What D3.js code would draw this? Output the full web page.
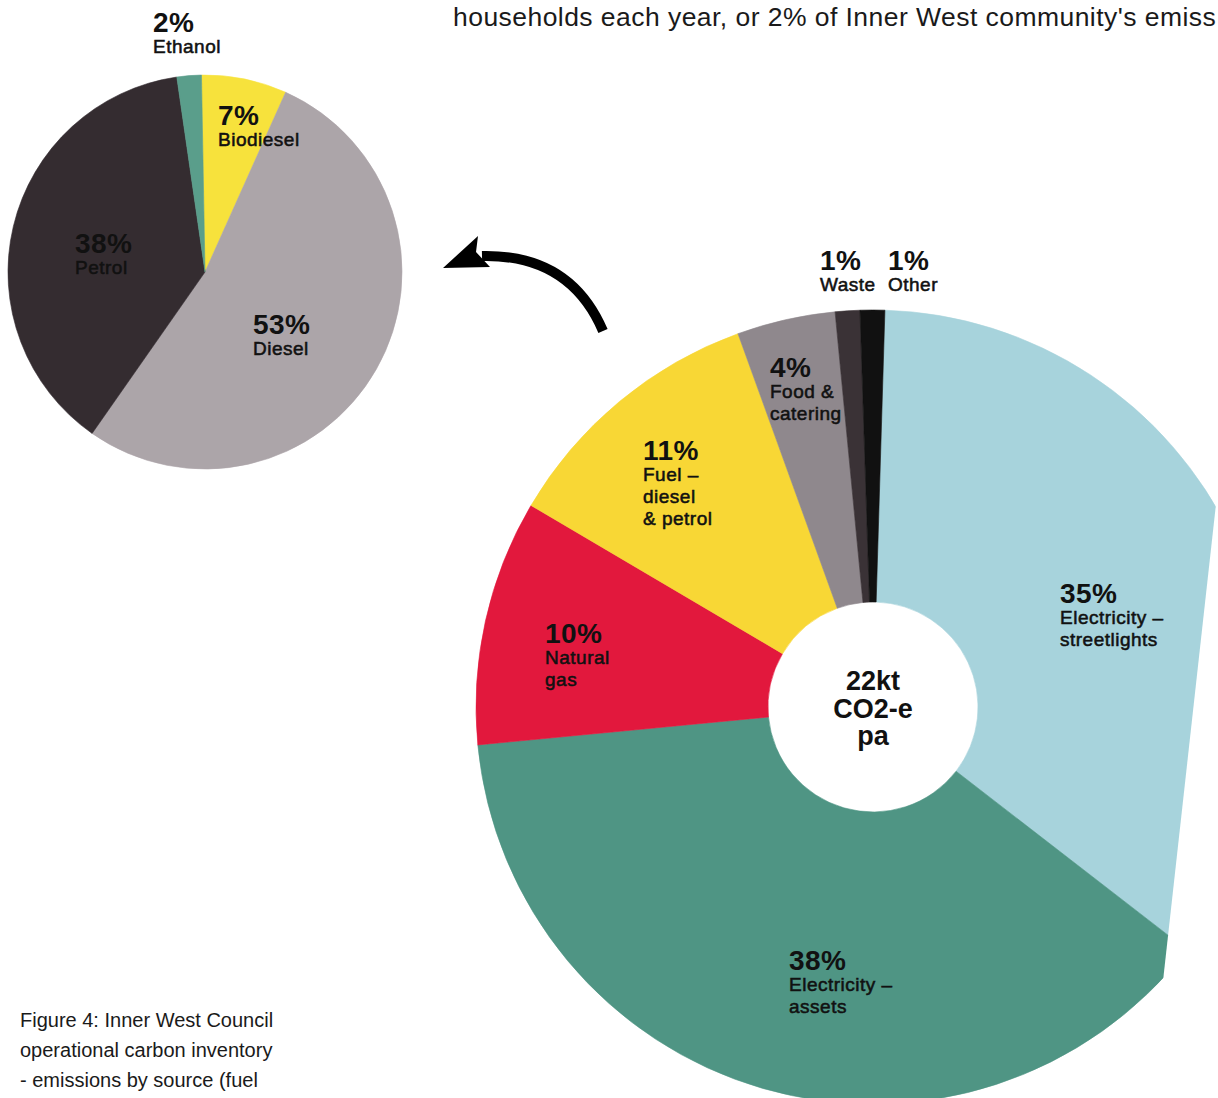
<!DOCTYPE html>
<html>
<head>
<meta charset="utf-8">
<script src="https://cdn.jsdelivr.net/npm/d3@7"></script>
<style>
  html, body { margin: 0; padding: 0; background: #ffffff; }
  svg { display: block; }
  text { font-family: 'Liberation Sans', Arial, Helvetica, sans-serif; fill: #111; }
</style>
</head>
<body>
<svg id="page" width="1218" height="1098"></svg>
<script>
// Operational inventory (large donut), clockwise from 12 o'clock
var opCategories = ['Electricity – streetlights', 'Electricity – assets', 'Natural gas',
    'Fuel – diesel & petrol', 'Food & catering', 'Waste', 'Other'];
var opValues = [35, 38, 10, 11, 4, 1, 1];
var opLabelLines = [['Electricity –', 'streetlights'], ['Electricity –', 'assets'], ['Natural', 'gas'],
    ['Fuel –', 'diesel', '& petrol'], ['Food &', 'catering'], ['Waste'], ['Other']];
var opTotal = ['22kt', 'CO2-e', 'pa'];

// Fuel breakdown (small pie), clockwise from 12 o'clock
var fuelCategories = ['Biodiesel', 'Diesel', 'Petrol', 'Ethanol'];
var fuelValues = [7, 53, 38, 2];

// Running text, cut at the page edge as in the scan
var topLine = "households each year, or 2% of Inner West community's emiss";
var captionLines = ['Figure 4: Inner West Council', 'operational carbon inventory', '- emissions by source (fuel'];

var opColors = ['#a7d3dc', '#4f9584', '#e2183d', '#f8d735', '#8f888d', '#3a3236', '#111111'];
var fuelColors = ['#f7e23c', '#aca5a9', '#342c30', '#5a9e8b'];

// Hand placed label anchors, offsets from each pie centre (left edge, baseline of the %)
var opLabelOffsets = [[187, -104], [-84, 263], [-328, -64], [-230, -247], [-103, -330], [-53, -437], [15, -437]];
var fuelLabelOffsets = [[13, -147], [48, 62], [-130, -19], [-52, -240]];

var svg = d3.select('#page');

// Clip the large donut along the scanned page edge on the right.
svg.append('defs').append('clipPath').attr('id', 'pageEdge')
    .append('polygon')
    .attr('points', '0,0 1272,0 1150,1098 0,1098');

/**
 * Draws a pie or donut with text labels placed at given offsets.
 */
var drawPie = function(opts) {
    var pie = d3.pie().sort(null).value(function(d) { return d; })
        .startAngle(opts.start).endAngle(opts.start + 2 * Math.PI);
    var arc = d3.arc().innerRadius(opts.inner).outerRadius(opts.outer);
    var color = d3.scaleOrdinal().domain(opts.categories).range(opts.colors);

    // clip path is in page coordinates, so it sits on an untransformed wrapper
    var wrap = svg.append('g');
    if (opts.clip) wrap.attr('clip-path', 'url(#pageEdge)');
    var g = wrap.append('g')
        .attr('transform', 'translate(' + opts.cx + ',' + opts.cy + ')');

    g.selectAll('path.slice').data(pie(opts.values))
        .enter().append('path')
        .attr('class', 'slice')
        .attr('d', arc)
        .style('fill', function(d, i) { return color(opts.categories[i]); })
        .style('stroke', function(d, i) { return color(opts.categories[i]); })
        .style('stroke-width', 0.6);

    var labels = svg.append('g')
        .attr('transform', 'translate(' + opts.cx + ',' + opts.cy + ')');
    opts.values.forEach(function(v, i) {
        var off = opts.offsets[i];
        var t = labels.append('text').attr('x', off[0]).attr('y', off[1]);
        t.append('tspan')
            .attr('x', off[0])
            .style('font-weight', 'bold').style('font-size', '28px')
            .style('letter-spacing', '0.4px')
            .text(v + '%');
        opts.lines[i].forEach(function(line, j) {
            t.append('tspan')
                .attr('x', off[0]).attr('dy', j === 0 ? 21 : 22)
                .style('font-size', '19px')
                .style('stroke', '#111').style('stroke-width', 0.55)
                .style('letter-spacing', '0.5px')
                .text(line);
        });
    });
    return g;
};

// Large donut: operational emissions by source
drawPie({
    cx: 873, cy: 707, inner: 105, outer: 397, start: 0.03, clip: true,
    categories: opCategories, values: opValues, colors: opColors,
    lines: opLabelLines, offsets: opLabelOffsets
});

// Total in the donut hole
svg.append('g').selectAll('text').data(opTotal)
    .enter().append('text')
    .attr('x', 873)
    .attr('y', function(d, i) { return 690 + i * 27.5; })
    .style('text-anchor', 'middle')
    .style('font-weight', 'bold').style('font-size', '27px')
    .text(function(d) { return d; });

// Small pie: fuel split
drawPie({
    cx: 205, cy: 272, inner: 0, outer: 197, start: -0.018, clip: false,
    categories: fuelCategories, values: fuelValues, colors: fuelColors,
    lines: fuelCategories.map(function(c) { return [c]; }), offsets: fuelLabelOffsets
});

// Curved arrow from the fuel slice to the small pie
svg.append('path')
    .attr('d', 'M603,331 Q570,254 482,256')
    .style('fill', 'none').style('stroke', '#000').style('stroke-width', 10);
svg.append('path')
    .attr('d', 'M443,268 L478,236 L476,252 L490,267 Z')
    .style('fill', '#000');

// Running text at the top
svg.append('text')
    .attr('x', 453).attr('y', 26)
    .style('font-size', '26.5px').style('letter-spacing', '0.45px').style('fill', '#1a1a1a')
    .text(topLine);

// Figure caption
svg.append('g').selectAll('text').data(captionLines)
    .enter().append('text')
    .attr('x', 20)
    .attr('y', function(d, i) { return 1027 + i * 30; })
    .style('font-size', '20px').style('fill', '#1a1a1a')
    .text(function(d) { return d; });
</script>
</body>
</html>
